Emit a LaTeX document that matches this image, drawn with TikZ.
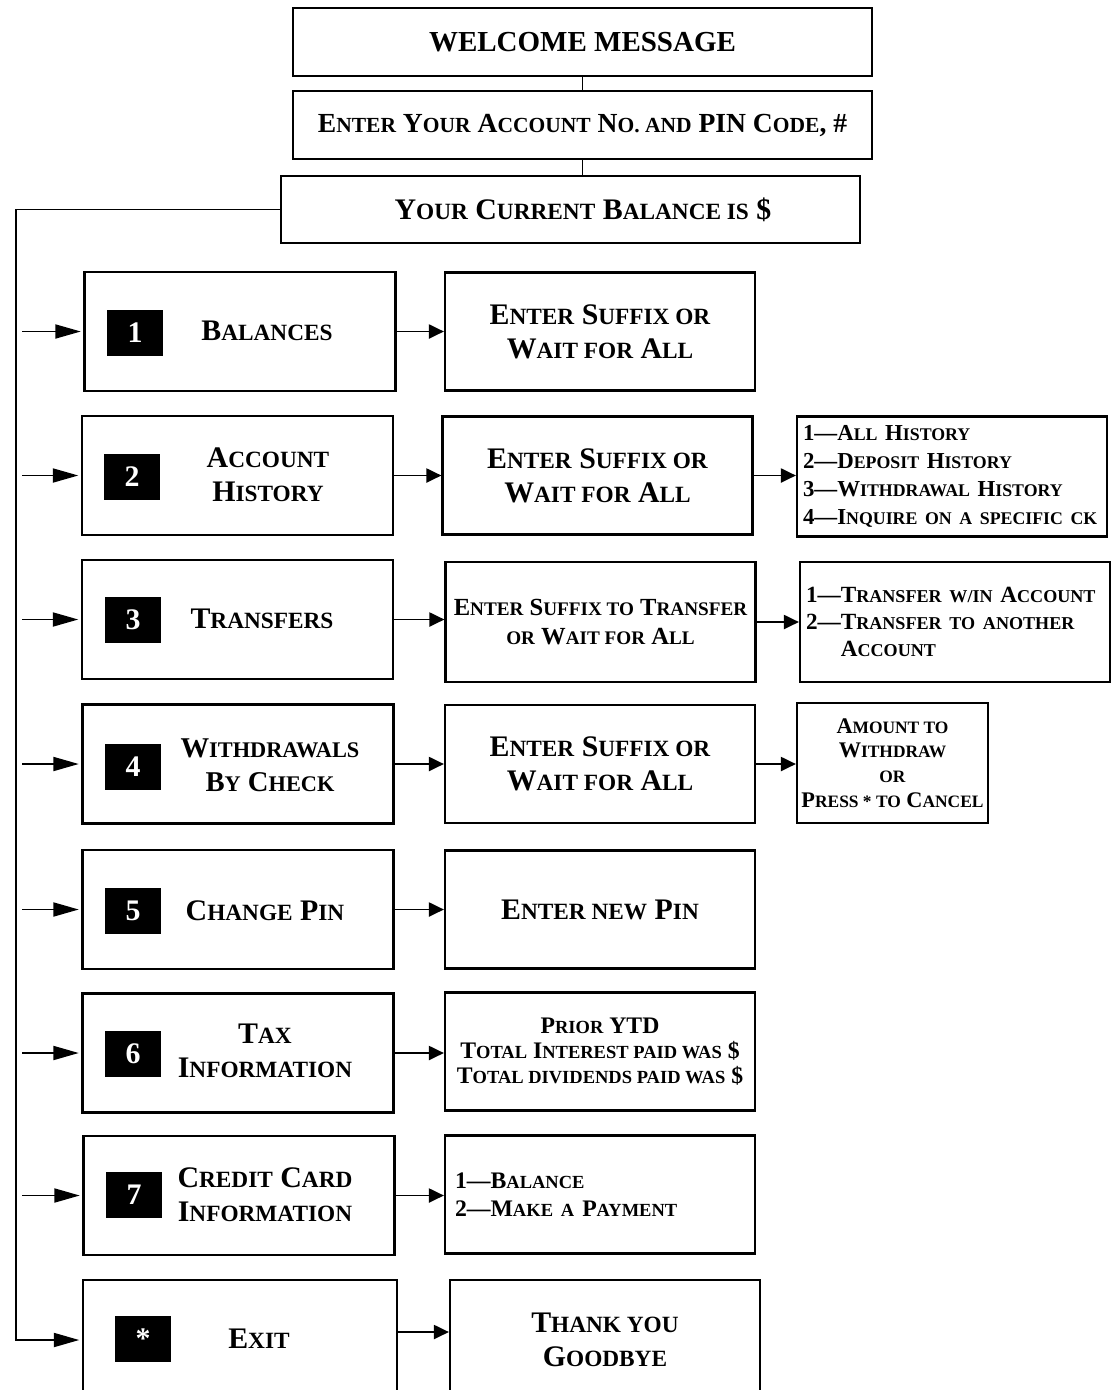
\documentclass[tikz,border=0pt]{standalone}
\usepackage{fontspec}
\setmainfont{Liberation Serif}
\usetikzlibrary{arrows.meta}
\makeatletter
% fake small caps: capitals at a reduced size
\newcommand\lc[1]{{\@tempdima=\f@size pt\@tempdima=0.78\@tempdima
  \fontsize{\strip@pt\@tempdima}{\f@baselineskip}\selectfont #1}}
\makeatother
\begin{document}
\begin{tikzpicture}[x=0.02cm,y=-0.02cm,
    atmBox/.style={draw,line width=1.3pt,align=center,inner sep=2pt},
    topBox/.style={atmBox,minimum width=11.58cm,minimum height=1.36cm,font=\fontsize{16.5}{19}\selectfont\bfseries},
    optBox/.style={atmBox,minimum width=6.22cm,minimum height=2.38cm},
    subBox/.style={atmBox,minimum width=6.2cm,minimum height=2.36cm,font=\fontsize{17}{19.5}\selectfont\bfseries},
    keyNode/.style={fill=black,text=white,minimum width=1.14cm,minimum height=0.93cm,inner sep=0pt,font=\fontsize{17}{19}\selectfont\bfseries},
    labNode/.style={align=center,font=\fontsize{17}{19.5}\selectfont\bfseries},
    listBox/.style={atmBox,align=left,inner xsep=0.12cm,minimum width=6.2cm,minimum height=2.4cm,text width=5.96cm,font=\fontsize{13}{16}\selectfont\bfseries},
    atmArr/.style={-{Triangle[length=8.5pt,width=8pt]},line width=1pt},
    feedArr/.style={-{Triangle[length=14.5pt,width=8pt]},line width=1pt,shorten >=1.5pt},
    atmLine/.style={line width=1pt},
]
\clip (0,0) rectangle (1114,1390);
% top of the menu
\node[topBox] (welcome) at (582.5,42) {WELCOME MESSAGE};
\node[topBox,font=\fontsize{15.7}{19}\selectfont\bfseries] (acctpin) at (582.5,125) {E\lc{NTER} Y\lc{OUR} A\lc{CCOUNT} N\lc{O. AND} PIN C\lc{ODE}, \#};
\node[topBox,minimum height=1.34cm,font=\fontsize{17}{19}\selectfont\bfseries] (curbal) at (570.5,209.5) {\hspace*{0.5cm}Y\lc{OUR} C\lc{URRENT} B\lc{ALANCE IS} \$};
\draw[atmLine] (welcome.south) -- (acctpin.north);
\draw[atmLine] (acctpin.south) -- (acctpin.south |- curbal.north);
% menu options
\node[optBox] (opt1) at (240,331.5) {};
\node[optBox] (opt2) at (237.5,475.5) {};
\node[optBox] (opt3) at (237.5,619.5) {};
\node[optBox] (opt4) at (238,764) {};
\node[optBox] (opt5) at (238,909.5) {};
\node[optBox] (opt6) at (238,1053) {};
\node[optBox] (opt7) at (239,1195.5) {};
\node[optBox,minimum width=6.28cm,minimum height=2.4cm] (optx) at (240,1340) {};
\node[keyNode] (key1) at (135,333) {1};
\node[keyNode] (key2) at (132,477) {2};
\node[keyNode] (key3) at (133,620) {3};
\node[keyNode] (key4) at (133,767) {4};
\node[keyNode] (key5) at (133,911) {5};
\node[keyNode] (key6) at (133,1054) {6};
\node[keyNode] (key7) at (134,1195) {7};
\node[keyNode] (keyx) at (143,1339) {*};
\node[labNode] (lab1) at (267,331) {B\lc{ALANCES}};
\node[labNode] (lab2) at (268,475) {A\lc{CCOUNT}\\H\lc{ISTORY}};
\node[labNode] (lab3) at (262,619) {T\lc{RANSFERS}};
\node[labNode,font=\fontsize{16.3}{19.5}\selectfont\bfseries] (lab4) at (270,765) {W\lc{ITHDRAWALS}\\B\lc{Y} C\lc{HECK}};
\node[labNode] (lab5) at (265,911) {C\lc{HANGE} P\lc{IN}};
\node[labNode] (lab6) at (265,1051) {T\lc{AX}\\I\lc{NFORMATION}};
\node[labNode] (lab7) at (265,1195) {C\lc{REDIT} C\lc{ARD}\\I\lc{NFORMATION}};
\node[labNode] (labx) at (259,1339) {E\lc{XIT}};
% prompts
\node[subBox] (sub1) at (600,331.5) {E\lc{NTER} S\lc{UFFIX OR}\\W\lc{AIT FOR} A\lc{LL}};
\node[subBox] (sub2) at (597.5,475.5) {E\lc{NTER} S\lc{UFFIX OR}\\W\lc{AIT FOR} A\lc{LL}};
\node[subBox,minimum height=2.4cm,font=\fontsize{14}{17}\selectfont\bfseries] (sub3) at (600.5,622) {E\lc{NTER} S\lc{UFFIX TO} T\lc{RANSFER}\\\lc{OR} W\lc{AIT FOR} A\lc{LL}};
\node[subBox] (sub4) at (600,764) {E\lc{NTER} S\lc{UFFIX OR}\\W\lc{AIT FOR} A\lc{LL}};
\node[subBox] (sub5) at (600,909.5) {E\lc{NTER NEW} P\lc{IN}};
\node[subBox,font=\fontsize{13.5}{14.3}\selectfont\bfseries] (sub6) at (600,1051.5) {P\lc{RIOR} YTD\\T\lc{OTAL} I\lc{NTEREST PAID WAS} \$\\T\lc{OTAL DIVIDENDS PAID WAS} \$};
\node[listBox,font=\fontsize{13.5}{16}\selectfont\bfseries,inner xsep=0.2cm,text width=5.8cm,minimum height=2.36cm] (sub7) at (600,1194.5) {1\textemdash B\lc{ALANCE}\\2\textemdash M\lc{AKE A} P\lc{AYMENT}};
\node[subBox,minimum height=2.4cm] (thanks) at (605,1340) {T\lc{HANK YOU}\\G\lc{OODBYE}};
% sub menus
\node[listBox] (hist) at (952,476.5) {1\textemdash A\lc{LL} H\lc{ISTORY}\\2\textemdash D\lc{EPOSIT} H\lc{ISTORY}\\3\textemdash W\lc{ITHDRAWAL} H\lc{ISTORY}\\4\textemdash I\lc{NQUIRE ON A SPECIFIC CK}};
\node[listBox,font=\fontsize{13.2}{15.5}\selectfont\bfseries] (xfer) at (955,622) {1\textemdash T\lc{RANSFER W/IN} A\lc{CCOUNT}\\2\textemdash T\lc{RANSFER TO ANOTHER}\\\phantom{2\textemdash}A\lc{CCOUNT}};
\node[atmBox,minimum width=3.82cm,minimum height=2.4cm,inner sep=1pt,font=\fontsize{12.7}{14}\selectfont\bfseries] (amount) at (892.5,763) {A\lc{MOUNT TO}\\W\lc{ITHDRAW}\\\lc{OR}\\P\lc{RESS * TO} C\lc{ANCEL}};
% the trunk line down the left side
\coordinate (tap) at (22,0);
\draw[feedArr] (curbal.west) -| (16,1340) -- (optx.west);
\draw[feedArr] (tap |- opt1.west) -- (opt1.west);
\draw[feedArr] (tap |- opt2.west) -- (opt2.west);
\draw[feedArr] (tap |- opt3.west) -- (opt3.west);
\draw[feedArr] (tap |- opt4.west) -- (opt4.west);
\draw[feedArr] (tap |- opt5.west) -- (opt5.west);
\draw[feedArr] (tap |- opt6.west) -- (opt6.west);
\draw[feedArr] (tap |- opt7.west) -- (opt7.west);
% option to prompt
\draw[atmArr] (opt1.east) -- (opt1.east -| sub1.west);
\draw[atmArr] (opt2.east) -- (opt2.east -| sub2.west);
\draw[atmArr] (opt3.east) -- (opt3.east -| sub3.west);
\draw[atmArr] (opt4.east) -- (opt4.east -| sub4.west);
\draw[atmArr] (opt5.east) -- (opt5.east -| sub5.west);
\draw[atmArr] (opt6.east) -- (opt6.east -| sub6.west);
\draw[atmArr] (opt7.east) -- (opt7.east -| sub7.west);
\draw[atmArr] ([yshift=0.16cm]optx.east) -- ([yshift=0.16cm]optx.east -| thanks.west);
% prompt to sub menu
\draw[atmArr] (sub2.east) -- (sub2.east -| hist.west);
\draw[atmArr] (sub3.east) -- (sub3.east -| xfer.west);
\draw[atmArr] (sub4.east) -- (sub4.east -| amount.west);
\end{tikzpicture}
\end{document}
